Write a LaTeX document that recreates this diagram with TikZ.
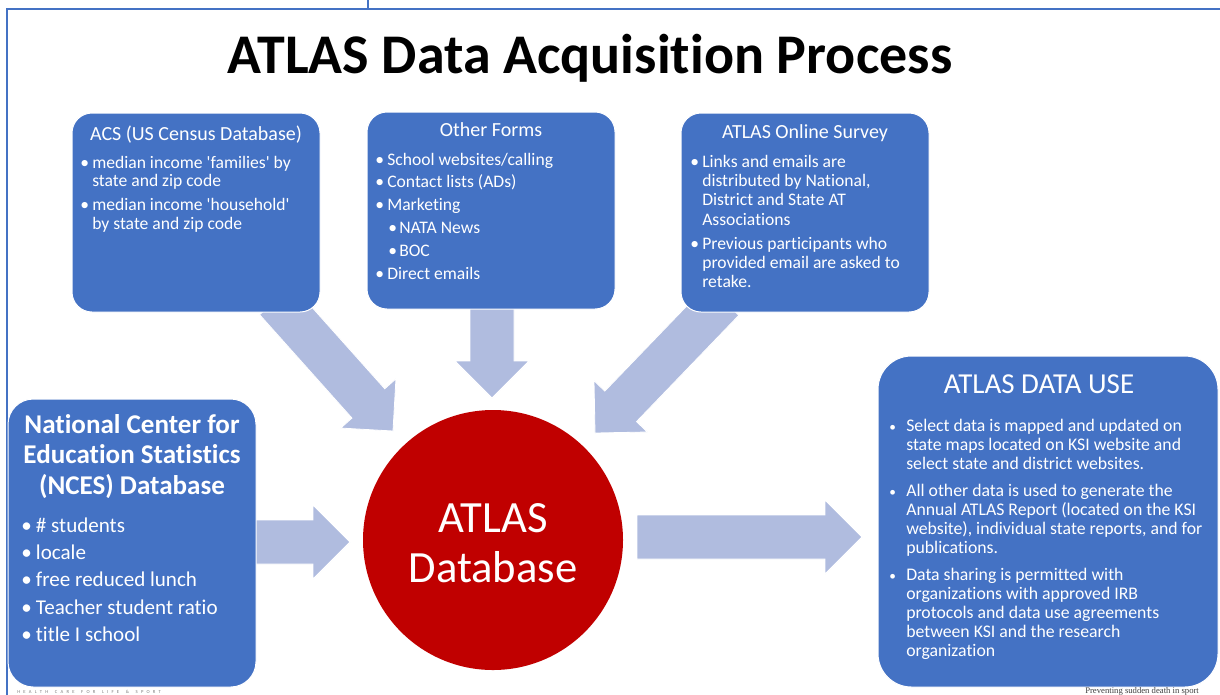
\documentclass[tikz,border=0pt]{standalone}
\usepackage{fontspec}
\setmainfont{Carlito}[Ligatures={TeXOff,CommonOff}]
\newfontfamily\smallserif{Liberation Serif}
\usetikzlibrary{calc}
\definecolor{boxblue}{HTML}{4472C4}
\definecolor{arrowfill}{HTML}{B0BCDF}
\definecolor{dbred}{HTML}{C00000}
\definecolor{framecol}{HTML}{4472C4}

% fat block arrow from #1 (start) to #2 (tip)
\newcommand\fatarrow[2]{%
  \path ($(#2)!27.75pt!(#1)$) coordinate (hb);
  \filldraw[arrowshape] ($(#1)!16.5pt!90:(#2)$) -- ($(hb)!16.5pt!90:(#2)$)
    -- ($(hb)!27.75pt!90:(#2)$) -- (#2) -- ($(hb)!27.75pt!-90:(#2)$)
    -- ($(hb)!16.5pt!-90:(#2)$) -- ($(#1)!16.5pt!-90:(#2)$) -- cycle;
}
\newcommand\sq{\char39\relax}

\tikzset{
  arrowshape/.style={fill=arrowfill, draw=white, line width=0.6pt},
  bluebox/.style={fill=boxblue, draw=white, line width=0.75pt, inner sep=0pt},
  txt/.style={text=white, inner sep=0pt},
}

\begin{document}
\begin{tikzpicture}[x=0.75pt,y=-0.75pt]
\useasboundingbox (0,0) rectangle (1220,694);
\fill[white] (0,0) rectangle (1220,694);

% frame
\draw[framecol, line width=1.6pt] (7,9) rectangle (1240,720);
\draw[framecol, line width=1.1pt] (368,0) -- (368,8);

% title
\node[font=\bfseries\fontsize{42}{48}\selectfont, anchor=base, inner sep=0pt] (title) at (590,73) {ATLAS Data Acquisition Process};

% arrow coordinates
\coordinate (a1s) at (276,300); \coordinate (a1t) at (393,431);
\coordinate (a2s) at (492,300); \coordinate (a2t) at (492,398);
\coordinate (a3s) at (723,300); \coordinate (a3t) at (595,433);
\coordinate (a4s) at (240,542); \coordinate (a4t) at (350,542);
\coordinate (a5s) at (637,537); \coordinate (a5t) at (862,537);

\fatarrow{a1s}{a1t}
\fatarrow{a2s}{a2t}
\fatarrow{a3s}{a3t}
\fatarrow{a4s}{a4t}
\fatarrow{a5s}{a5t}

% boxes
\node[bluebox, rounded corners=15pt, minimum width=186pt, minimum height=149.25pt] (acs) at (196,212.5) {};
\node[bluebox, rounded corners=15pt, minimum width=186pt, minimum height=147.75pt] (oth) at (491,210.5) {};
\node[bluebox, rounded corners=15pt, minimum width=186pt, minimum height=149.25pt] (srv) at (805,212.5) {};
\node[bluebox, rounded corners=19pt, minimum width=186pt, minimum height=216pt] (nces) at (132,543) {};
\node[bluebox, rounded corners=25pt, minimum width=255pt, minimum height=248.25pt] (use) at (1048,521.5) {};
\node[circle, fill=dbred, inner sep=0pt, minimum size=195pt] (db) at (493,540) {};

% ACS text
\node[txt, anchor=base, font=\fontsize{15}{18}\selectfont] (acsT) at (196,140) {ACS (US Census Database)};
\node[txt, anchor=base west, font=\fontsize{13.2}{13.9}\selectfont] (acsB) at (80,168) {%
\begin{tabular}[t]{@{}p{9pt}@{}l@{}}
•&median income \sq families\sq{} by\\
 &state and zip code\\[4.1pt]
•&median income \sq household\sq\\
 &by state and zip code
\end{tabular}};

% Other Forms text
\node[txt, anchor=base, font=\fontsize{15}{18}\selectfont] (othT) at (491,136) {Other Forms};
\node[txt, anchor=base west, font=\fontsize{13.2}{17.2}\selectfont] (othB) at (375,165) {%
\begin{tabular}[t]{@{}l@{}}
\makebox[9pt][l]{•}School websites/calling\\
\makebox[9pt][l]{•}Contact lists (ADs)\\
\makebox[9pt][l]{•}Marketing\\
\hspace{9.75pt}\makebox[8.25pt][l]{•}NATA News\\
\hspace{9.75pt}\makebox[8.25pt][l]{•}BOC\\
\makebox[9pt][l]{•}Direct emails
\end{tabular}};

% Survey text
\node[txt, anchor=base, font=\fontsize{15}{18}\selectfont] (srvT) at (805,138) {ATLAS Online Survey};
\node[txt, anchor=base west, font=\fontsize{13.2}{14.5}\selectfont] (srvB) at (690,167) {%
\begin{tabular}[t]{@{}p{9pt}@{}l@{}}
•&Links and emails are\\
 &distributed by National,\\
 &District and State AT\\
 &Associations\\[3.5pt]
•&Previous participants who\\
 &provided email are asked to\\
 &retake.
\end{tabular}};

% NCES text
\node[txt, anchor=base, font=\bfseries\fontsize{20.3}{22.9}\selectfont] (ncesT) at (132,433) {%
\begin{tabular}[t]{@{}c@{}}
National Center for\\
Education Statistics\\
(NCES) Database
\end{tabular}};
\node[txt, anchor=base west, font=\fontsize{15.8}{20.6}\selectfont] (ncesB) at (21,532) {%
\begin{tabular}[t]{@{}p{11pt}@{}l@{}}
•&\# students\\
•&locale\\
•&free reduced lunch\\
•&Teacher student ratio\\
•&title I school
\end{tabular}};

% Database text
\node[txt, anchor=base, font=\fontsize{33.5}{37.5}\selectfont] (dbT) at (493,532) {%
\begin{tabular}[t]{@{}c@{}}
ATLAS\\
Database
\end{tabular}};

% ATLAS DATA USE text
\node[txt, anchor=base, font=\fontsize{21.7}{26}\selectfont] (useT) at (1039,393) {ATLAS DATA USE};
\node[txt, anchor=base west, font=\fontsize{13.3}{14.25}\selectfont] (useB) at (889,431) {%
\begin{tabular}[t]{@{}p{12.75pt}@{}l@{}}
{\fontsize{10}{10}\selectfont •}&Select data is mapped and updated on\\
 &state maps located on KSI website and\\
 &select state and district websites.\\[6pt]
{\fontsize{10}{10}\selectfont •}&All other data is used to generate the\\
 &Annual ATLAS Report (located on the KSI\\
 &website), individual state reports, and for\\
 &publications.\\[6pt]
{\fontsize{10}{10}\selectfont •}&Data sharing is permitted with\\
 &organizations with approved IRB\\
 &protocols and data use agreements\\
 &between KSI and the research\\
 &organization
\end{tabular}};

% footer fragments
\node[anchor=base west, inner sep=0pt, text=gray, font=\fontsize{3.5}{4}\selectfont] (ftl) at (17,693) {H\kern2.4pt E\kern2.4pt A\kern2.4pt L\kern2.4pt T\kern2.4pt H\kern5pt C\kern2.4pt A\kern2.4pt R\kern2.4pt E\kern5pt F\kern2.4pt O\kern2.4pt R\kern5pt L\kern2.4pt I\kern2.4pt F\kern2.4pt E\kern5pt \&\kern5pt S\kern2.4pt P\kern2.4pt O\kern2.4pt R\kern2.4pt T};
\node[anchor=base west, inner sep=0pt, text=black!75, font=\smallserif\fontsize{6.5}{7}\selectfont] (ftr) at (1085,693) {Preventing sudden death in sport};
\end{tikzpicture}
\end{document}
